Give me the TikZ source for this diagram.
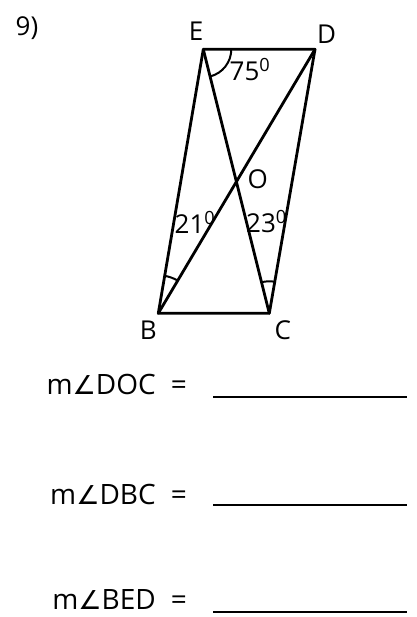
\documentclass[tikz,border=0pt]{standalone}
\usepackage{fontspec}
\setmainfont{Open Sans}
\newfontfamily\symfont{DejaVu Sans}
\begin{document}
\begin{tikzpicture}[x=1pt,y=1pt]
\tikzset{
  fig/.style={line width=2.8pt, line cap=round, line join=round},
  arcmark/.style={line width=2pt},
  lbl/.style={inner sep=0pt, font=\fontsize{26}{28}\selectfont},
  rowtext/.style={inner sep=0pt, anchor=base east, font=\fontsize{28}{32}\selectfont},
  blank/.style={line width=2.6pt}
}
\newcommand{\angsym}{{\symfont\fontsize{26}{30}\selectfont ∠}}
\useasboundingbox (0,0) rectangle (416,617);
% vertices
\coordinate (E) at (203.3,567.7);
\coordinate (D) at (315,567.7);
\coordinate (B) at (158.3,303.7);
\coordinate (C) at (269.3,303.7);
% figure
\draw[fig] (E) -- (D) -- (C) -- (B) -- cycle;
\draw[fig] (B) -- (D);
\draw[fig] (E) -- (C);
% angle marks
\draw[arcmark] ([shift={(0:28)}]E) arc[start angle=0, end angle=-76, radius=28];
\draw[arcmark] ([shift={(59.3:38)}]B) arc[start angle=59.3, end angle=80.3, radius=38];
\draw[arcmark] ([shift={(80.2:32)}]C) arc[start angle=80.2, end angle=104, radius=32];
% labels
\node[lbl] (nine) at (27,589) {9)};
\node[lbl] (lE) at (196,585.3) {E};
\node[lbl] (lD) at (326.7,583) {D};
\node[lbl] (lB) at (148.3,287) {B};
\node[lbl] (lC) at (282.7,286.3) {C};
\node[lbl] (lO) at (257.7,438) {O};
\node[lbl] (a75) at (250,547) {75\textsuperscript{0}};
\node[lbl] (a21) at (195,395) {21\textsuperscript{0}};
\node[lbl] (a23) at (266.5,395) {23\textsuperscript{0}};
% questions
\node[rowtext] (q1) at (187,222.5) {m\angsym DOC\hspace{15pt}=};
\node[rowtext] (q2) at (187,112.5) {m\angsym DBC\hspace{15pt}=};
\node[rowtext] (q3) at (187,7) {m\angsym BED\hspace{15pt}=};
\coordinate (u1a) at (213,220); \coordinate (u1b) at (407,220);
\coordinate (u2a) at (213,112); \coordinate (u2b) at (407,112);
\coordinate (u3a) at (213,5); \coordinate (u3b) at (407,5);
\draw[blank] (u1a) -- (u1b);
\draw[blank] (u2a) -- (u2b);
\draw[blank] (u3a) -- (u3b);
\end{tikzpicture}
\end{document}
